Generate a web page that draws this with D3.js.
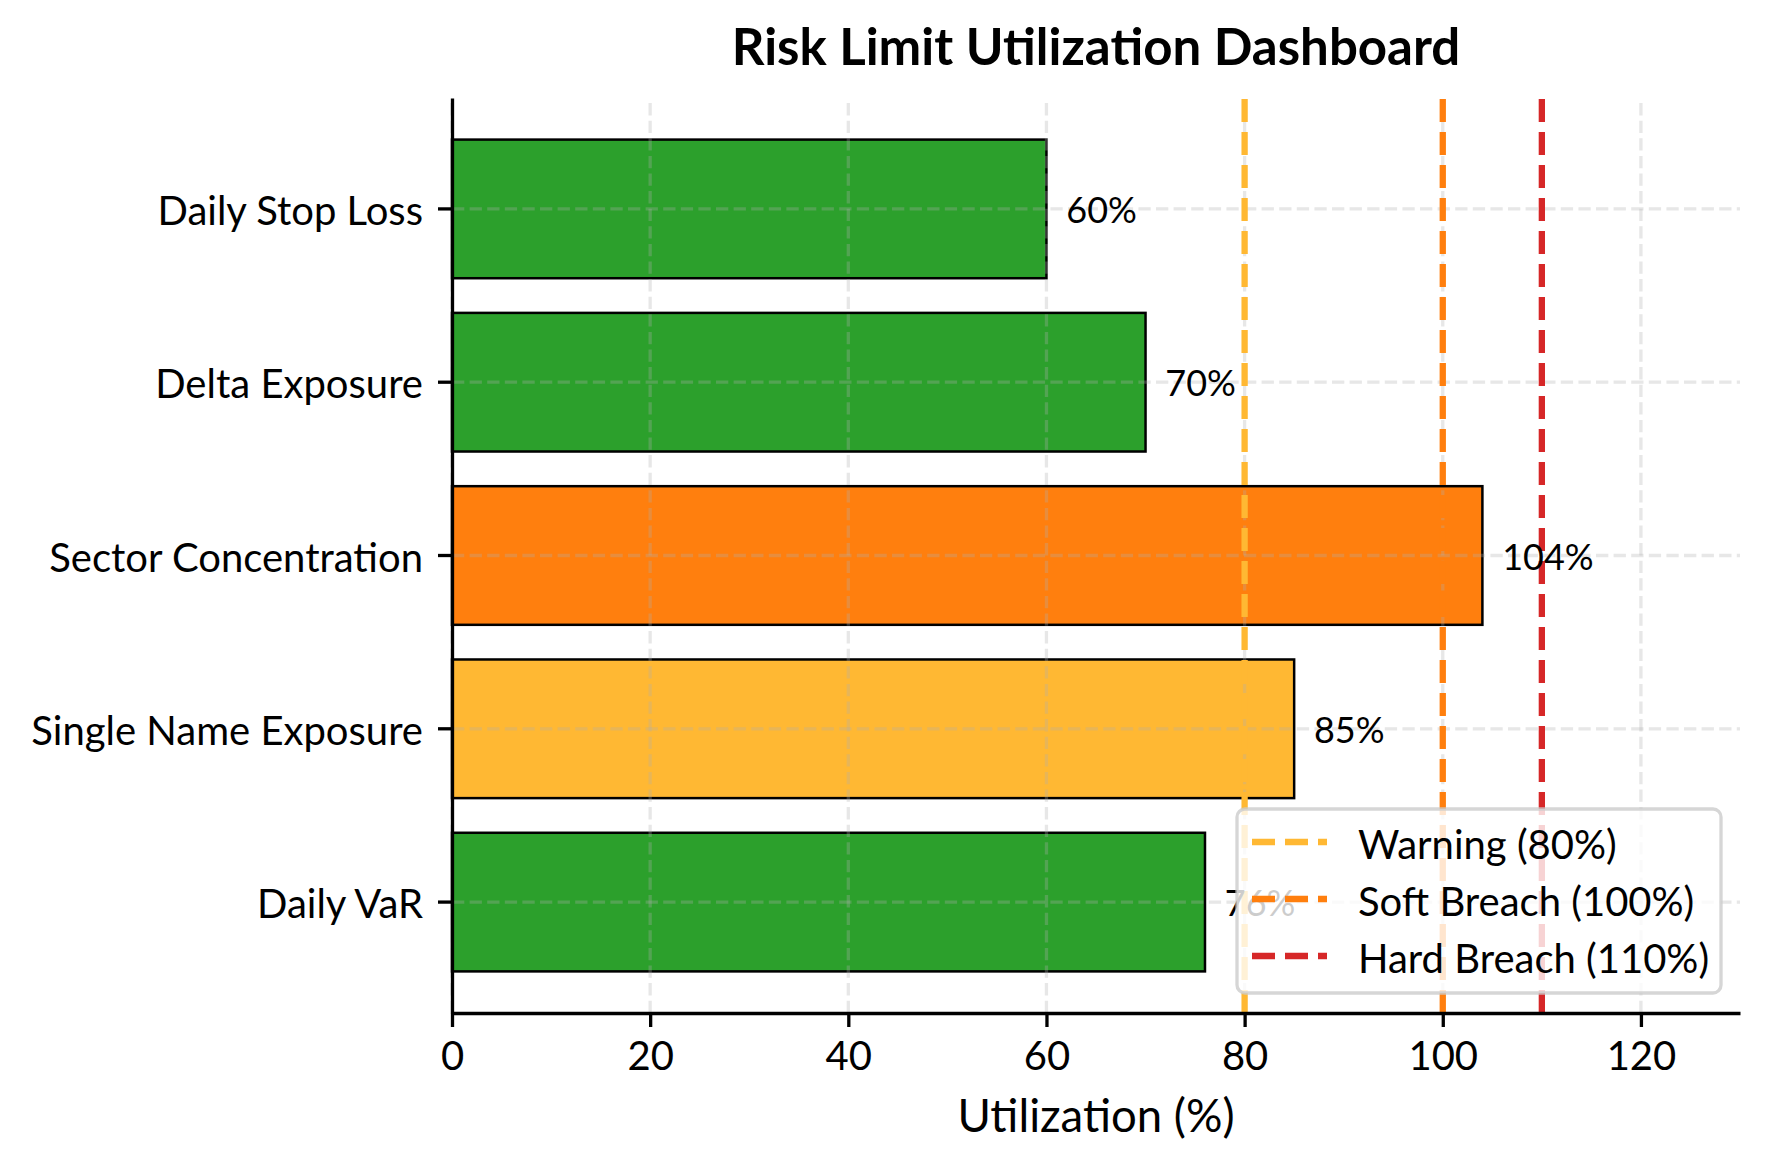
<!DOCTYPE html>
<html>
<head>
<meta charset="utf-8">
<script src="https://cdn.jsdelivr.net/npm/d3@7"></script>
<style>
  body { margin: 0; background: #fff; }
</style>
</head>
<body>
<div id="chart"></div>
<script>
// data, bottom to top as in the original plot
var categories = ['Daily VaR', 'Single Name Exposure', 'Sector Concentration', 'Delta Exposure', 'Daily Stop Loss'];
var utilization = [76, 85, 104, 70, 60];
var thresholdNames = ['Warning (80%)', 'Soft Breach (100%)', 'Hard Breach (110%)'];
var thresholdValues = [80, 100, 110];
var thresholdColors = ['#ffb833', '#ff7f0e', '#d62728'];
var xTicks = [0, 20, 40, 60, 80, 100, 120];

var w = 1769,
  h = 1170;
var margin = {top: 98, right: 29, bottom: 157, left: 452};
var iw = w - margin.left - margin.right,
  ih = h - margin.top - margin.bottom;
var font = 'Lato, "Source Sans Pro", "Noto Sans", sans-serif';

function barColor(v) {
  if (v >= 110) return '#d62728';
  if (v >= 100) return '#ff7f0e';
  if (v >= 80) return '#ffb833';
  return '#2ca02c';
}

var svg = d3.select('#chart').append('svg')
  .attr('width', w)
  .attr('height', h)
  .style('font-family', font);

var g = svg.append('g')
  .attr('transform', 'translate(' + margin.left + ',' + margin.top + ')');

var x = d3.scaleLinear().domain([0, 130]).range([0, iw]);
var y = d3.scaleBand()
  .domain(categories.slice().reverse())
  .range([0, ih])
  .paddingInner(0.2)
  .paddingOuter(0.24);

// bars
g.selectAll('rect.bar')
  .data(categories)
  .enter().append('rect')
  .attr('class', 'bar')
  .attr('x', x(0))
  .attr('y', function(d) { return y(d); })
  .attr('width', function(d, i) { return x(utilization[i]) - x(0); })
  .attr('height', y.bandwidth())
  .attr('fill', function(d, i) { return barColor(utilization[i]); })
  .attr('stroke', '#000')
  .attr('stroke-width', 2.5);

// grid on top of the bars
var grid = g.append('g').attr('class', 'grid');
grid.selectAll('line.gx')
  .data(xTicks)
  .enter().append('line')
  .attr('x1', function(d) { return x(d); })
  .attr('x2', function(d) { return x(d); })
  .attr('y1', ih)
  .attr('y2', 0);
grid.selectAll('line.gy')
  .data(categories)
  .enter().append('line')
  .attr('x1', 0)
  .attr('x2', iw)
  .attr('y1', function(d) { return y(d) + y.bandwidth() / 2; })
  .attr('y2', function(d) { return y(d) + y.bandwidth() / 2; });
grid.selectAll('line')
  .attr('stroke', '#b0b0b0')
  .attr('stroke-opacity', 0.3)
  .attr('stroke-width', 3.3)
  .attr('stroke-dasharray', '12.3,5.3');

// threshold lines
g.selectAll('line.threshold')
  .data(thresholdValues)
  .enter().append('line')
  .attr('class', 'threshold')
  .attr('x1', function(d) { return x(d); })
  .attr('x2', function(d) { return x(d); })
  .attr('y1', ih)
  .attr('y2', 0)
  .attr('stroke', function(d, i) { return thresholdColors[i]; })
  .attr('stroke-width', 6.3)
  .attr('stroke-dasharray', '23,10');

// value labels
g.selectAll('text.value')
  .data(categories)
  .enter().append('text')
  .attr('class', 'value')
  .attr('x', function(d, i) { return x(utilization[i] + 2); })
  .attr('y', function(d) { return y(d) + y.bandwidth() / 2; })
  .attr('dominant-baseline', 'central')
  .attr('font-size', 36)
  .text(function(d, i) { return utilization[i] + '%'; });

// axes
var xAxis = g.append('g')
  .attr('transform', 'translate(0,' + ih + ')')
  .call(d3.axisBottom(x).tickValues(xTicks).tickSize(14).tickSizeOuter(0).tickPadding(15));
var yAxis = g.append('g')
  .call(d3.axisLeft(y).tickSize(14).tickSizeOuter(0).tickPadding(15));
yAxis.selectAll('text').attr('dy', '0.4em');

[xAxis, yAxis].forEach(function(a) {
  a.attr('font-family', font).attr('font-size', 40);
  a.selectAll('text').attr('fill', '#000');
  a.selectAll('line').attr('stroke', '#000').attr('stroke-width', 3.3);
  a.select('.domain').attr('stroke', '#000').attr('stroke-width', 3.3);
});

// title and axis label
svg.append('text')
  .attr('x', margin.left + iw / 2)
  .attr('y', 65)
  .attr('text-anchor', 'middle')
  .attr('font-size', 51)
  .attr('font-weight', 'bold')
  .text('Risk Limit Utilization Dashboard');

svg.append('text')
  .attr('x', margin.left + iw / 2)
  .attr('y', 1132)
  .attr('text-anchor', 'middle')
  .attr('font-size', 45.5)
  .text('Utilization (%)');

// legend, lower right
var lw = 484, lh = 184;
var legend = g.append('g')
  .attr('transform', 'translate(' + (iw - 19 - lw) + ',' + (ih - 20 - lh) + ')');
legend.append('rect')
  .attr('width', lw)
  .attr('height', lh)
  .attr('rx', 8)
  .attr('fill', '#fff')
  .attr('fill-opacity', 0.8)
  .attr('stroke', '#cccccc')
  .attr('stroke-opacity', 0.8)
  .attr('stroke-width', 3.3);

var rows = legend.selectAll('g.row')
  .data(thresholdNames)
  .enter().append('g')
  .attr('class', 'row')
  .attr('transform', function(d, i) { return 'translate(0,' + (33 + i * 57) + ')'; });
rows.append('line')
  .attr('x1', 15)
  .attr('x2', 90)
  .attr('stroke', function(d, i) { return thresholdColors[i]; })
  .attr('stroke-width', 6.3)
  .attr('stroke-dasharray', '23,10');
rows.append('text')
  .attr('x', 121)
  .attr('dy', '0.05em')
  .attr('dominant-baseline', 'central')
  .attr('font-size', 40)
  .text(function(d) { return d; });
</script>
</body>
</html>
